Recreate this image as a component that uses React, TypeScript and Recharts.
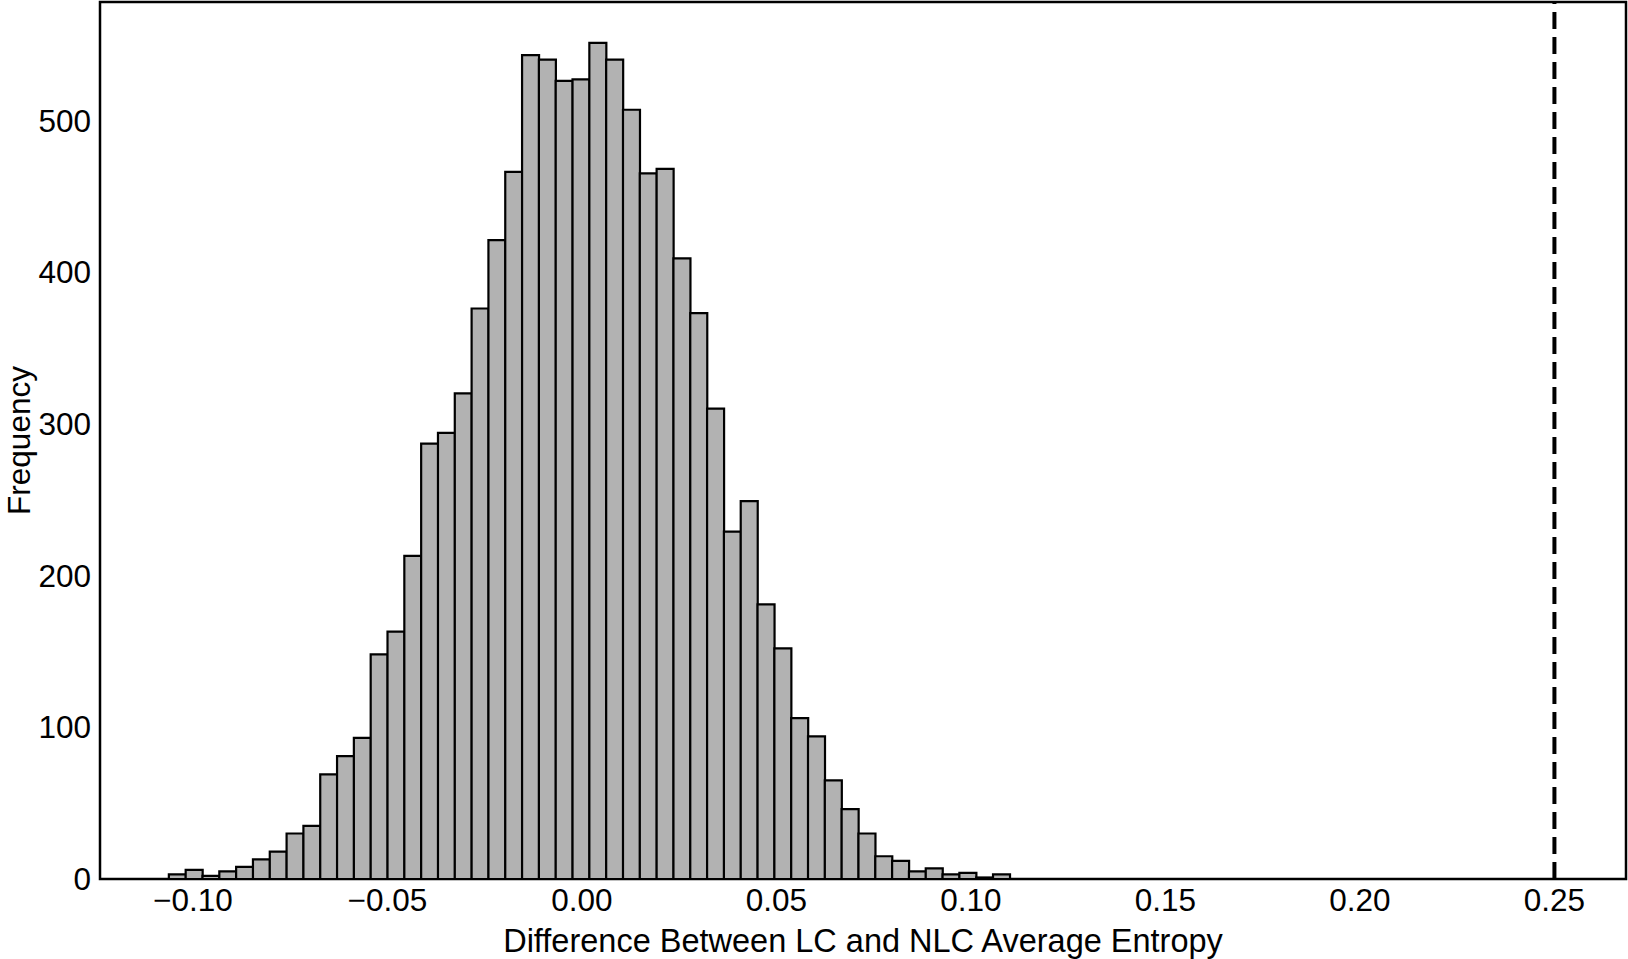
import React from 'react';
import {
  BarChart,
  Bar,
  XAxis,
  YAxis,
  ReferenceLine,
  ReferenceArea,
  Label,
} from 'recharts';

// histogram bins (evenly spaced)
const binStart = -0.1062;
const binWidth = 0.004324;

const counts = [
  3, 6, 2, 5, 8, 13, 18, 30, 35, 69,
  81, 93, 148, 163, 213, 287, 294, 320, 376, 421,
  466, 543, 540, 526, 527, 551, 540, 507, 465, 468,
  409, 373, 310, 229, 249, 181, 152, 106, 94, 65,
  46, 30, 15, 12, 5, 7, 3, 4, 1, 3,
];

const xTicks = [-0.1, -0.05, 0, 0.05, 0.1, 0.15, 0.2, 0.25];
const yTicks = [0, 100, 200, 300, 400, 500];
const observedDiff = 0.25;

const xDomain: [number, number] = [-0.1239, 0.2684];
const yDomain: [number, number] = [0, 578];

const data = counts.map((count, i) => ({
  x: binStart + binWidth * (i + 0.5),
  count,
}));

const fontFamily = '"Liberation Sans", Arial, Helvetica, sans-serif';
const tickStyle = { fill: '#000', fontSize: 31.5, fontFamily };

const fmt = (v: number) => (v < 0 ? '\u2212' : '') + Math.abs(v).toFixed(2);

const YLabel = (props: any) => {
  const vb = props.viewBox || {};
  const cx = 30;
  const cy = (vb.y || 0) + (vb.height || 0) / 2;
  return (
    <text
      x={cx}
      y={cy}
      transform={`rotate(-90, ${cx}, ${cy})`}
      textAnchor="middle"
      fill="#000"
      fontSize={31.5}
      fontFamily={fontFamily}
    >
      Frequency
    </text>
  );
};

const App: React.FC = () => {
  return (
    <div style={{ position: 'absolute', left: 0, top: 0, width: 1628, height: 959, background: '#fff' }}>
      <BarChart
        width={1628}
        height={959}
        data={data}
        margin={{ top: 2, right: 2, bottom: 0, left: 0 }}
        barCategoryGap={0}
        barGap={0}
      >
        <XAxis
          dataKey="x"
          type="number"
          domain={xDomain}
          ticks={xTicks}
          allowDataOverflow
          interval={0}
          tickFormatter={fmt}
          height={80}
          axisLine={false}
          tickLine={false}
          tickSize={0}
          tickMargin={10}
          tick={tickStyle}
        >
          <Label
            value="Difference Between LC and NLC Average Entropy"
            position="insideBottom"
            offset={7}
            style={{ fill: '#000', fontSize: 32.5, fontFamily }}
          />
        </XAxis>
        <YAxis
          type="number"
          domain={yDomain}
          ticks={yTicks}
          allowDataOverflow
          interval={0}
          width={100}
          axisLine={false}
          tickLine={false}
          tickSize={0}
          tickMargin={9}
          tick={tickStyle}
        >
          <Label content={YLabel} />
        </YAxis>
        <Bar
          dataKey="count"
          fill="#b2b2b2"
          stroke="#000"
          strokeWidth={2.2}
          isAnimationActive={false}
        />
        <ReferenceLine x={observedDiff} stroke="#000" strokeWidth={4} strokeDasharray="17 8" />
        <ReferenceArea
          x1={xDomain[0]}
          x2={xDomain[1]}
          y1={yDomain[0]}
          y2={yDomain[1]}
          fill="none"
          stroke="#000"
          strokeWidth={2.5}
          ifOverflow="visible"
        />
      </BarChart>
    </div>
  );
};

export default App;
